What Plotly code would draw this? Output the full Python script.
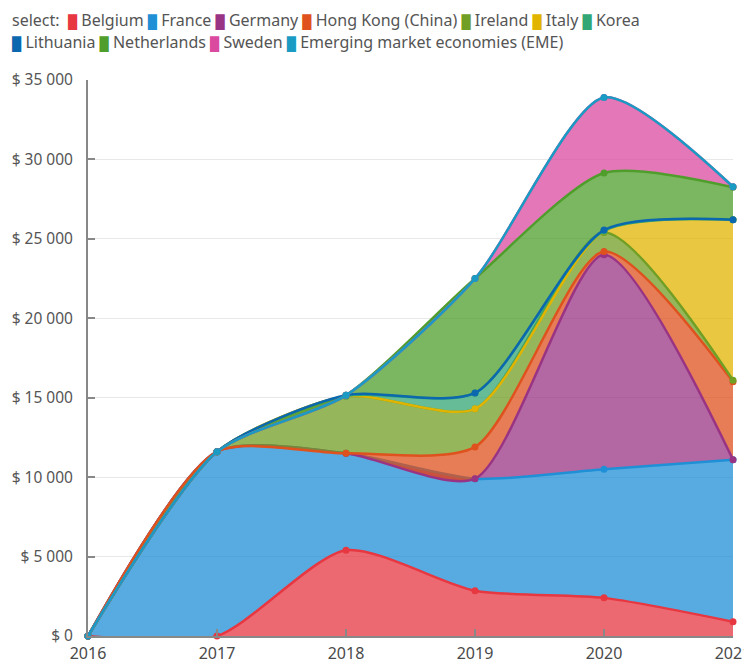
import plotly.graph_objects as go

years = [2016, 2017, 2018, 2019, 2020, 2021]

belgium = [0, 0, 5400, 2850, 2400, 900]
france = [0, 11600, 6100, 7050, 8100, 10200]
germany = [0, 0, 0, 0, 13500, 0]
hong_kong = [0, 0, 0, 2000, 200, 4900]
ireland = [0, 0, 3600, 2400, 1200, 100]
italy = [0, 0, 0, 0, 100, 10100]
korea = [0, 0, 0, 1000, 0, 0]
lithuania = [0, 0, 50, 0, 50, 0]
netherlands = [0, 0, 0, 7200, 3600, 2050]
sweden = [0, 0, 0, 0, 4750, 30]
eme = [0, 0, 0, 0, 0, 0]

series_names = ["Belgium", "France", "Germany", "Hong Kong (China)", "Ireland", "Italy",
                "Korea", "Lithuania", "Netherlands", "Sweden", "Emerging market economies (EME)"]
series_values = [belgium, france, germany, hong_kong, ireland, italy,
                 korea, lithuania, netherlands, sweden, eme]
series_colors = ["#E73741", "#1F8FD6", "#993484", "#DF521E", "#719E24", "#E1B400",
                 "#32A674", "#0B68AF", "#4F9E2C", "#DA4A9F", "#1A9BC4"]

y_tickvals = [0, 5000, 10000, 15000, 20000, 25000, 30000, 35000]
y_ticktext = ["$ 0", "$ 5 000", "$ 10 000", "$ 15 000", "$ 20 000", "$ 25 000", "$ 30 000", "$ 35 000"]
x_ticktext = ["2016", "2017", "2018", "2019", "2020", "2021"]


def rgba(hex_color, a):
    h = hex_color.lstrip("#")
    r, g, b = int(h[0:2], 16), int(h[2:4], 16), int(h[4:6], 16)
    return f"rgba({r},{g},{b},{a})"


FONT = "Noto Sans"
# The page body adds an 8px offset, so the figure is 8px smaller on each axis.
W, H = 744, 654
ML, MR, MT, MB = 80, 19, 72, 26
PW, PH = W - ML - MR, H - MT - MB

fig = go.Figure()
for name, vals, col in zip(series_names, series_values, series_colors):
    fig.add_trace(go.Scatter(
        x=years, y=vals, name=name, stackgroup="one",
        mode="lines+markers",
        line=dict(color=col, width=2.5, shape="spline", smoothing=0.7),
        marker=dict(color=col, size=7),
        fillcolor=rgba(col, 0.75),
        cliponaxis=False,
        showlegend=False,
    ))

row1 = ["select:&nbsp;"]
row2 = []
for i, (name, col) in enumerate(zip(series_names, series_colors)):
    item = f"<span style='color:{col};font-size:13px'>█</span>&nbsp;{name}"
    (row1 if i < 7 else row2).append(item)

fig.add_annotation(text="&nbsp;".join(row1), xref="paper", yref="paper",
                   x=-(ML - 2) / PW, y=1 + 60 / PH, xanchor="left", yanchor="middle",
                   showarrow=False, font=dict(family=FONT, size=16, color="#555"))
fig.add_annotation(text="&nbsp;".join(row2), xref="paper", yref="paper",
                   x=-(ML - 2) / PW, y=1 + 38 / PH, xanchor="left", yanchor="middle",
                   showarrow=False, font=dict(family=FONT, size=16, color="#555"))

fig.update_layout(
    width=W, height=H,
    margin=dict(l=ML, r=MR, t=MT, b=MB),
    paper_bgcolor="white", plot_bgcolor="white",
    font=dict(family=FONT, size=16, color="#555"),
    showlegend=False,
    xaxis=dict(range=[2016, 2021], tickvals=years, ticktext=x_ticktext, automargin=False,
               showgrid=False, zeroline=False, showline=True, linecolor="#888", linewidth=2,
               ticks="inside", ticklen=7, tickcolor="#888", tickwidth=1.5,
               ticklabelstandoff=2,
               tickfont=dict(family=FONT, size=16, color="#4a4a4a")),
    yaxis=dict(range=[0, 35000], tickvals=y_tickvals, ticktext=y_ticktext, automargin=False,
               showgrid=True, gridcolor="#e8e8e8", zeroline=False,
               showline=True, linecolor="#888", linewidth=2,
               ticks="inside", ticklen=7, tickcolor="#888", tickwidth=1.5,
               ticklabelstandoff=10,
               tickfont=dict(family=FONT, size=15.5, color="#555")),
)

fig.write_html("out.html")
